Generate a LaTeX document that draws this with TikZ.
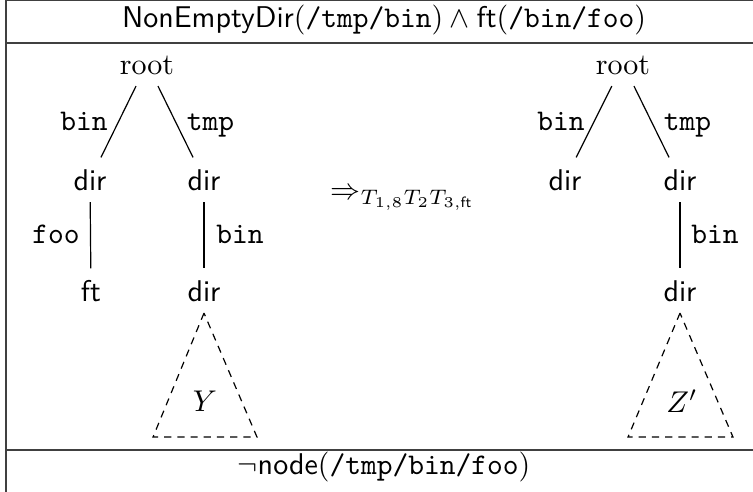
\documentclass[tikz,border=0pt]{standalone}
\usepackage{amsmath}
\begin{document}
\begin{tikzpicture}[x=0.33333pt,y=-0.33333pt,
  frame/.style={line width=0.5pt, draw=black!75},
  tn/.style={inner xsep=1pt, inner ysep=0pt, text height=11pt, text depth=3.5pt, anchor=base},
  lbl/.style={font=\ttfamily, inner sep=0pt, anchor=base},
  edge/.style={line width=0.4pt},
  tri/.style={line width=0.4pt, dash pattern=on 2.4pt off 2pt}]
\useasboundingbox (0,0) rectangle (753,492);
% frame
\coordinate (fTL) at (6,0.6);
\coordinate (fBL) at (6,492);
\coordinate (fTR) at (753,0.6);
\coordinate (hL) at (6,43);
\coordinate (hR) at (753,43);
\coordinate (bL) at (6,450);
\coordinate (bR) at (753,450);
\draw[frame] (fBL) -- (fTL) -- (fTR);
\draw[frame] (hL) -- (hR);
\draw[frame] (bL) -- (bR);
% header and footer
\node[anchor=base, inner sep=0pt] (head) at (384,28)
  {$\textsf{NonEmptyDir}(\texttt{/tmp/bin})\land\textsf{ft}(\texttt{/bin/foo})$};
\node[anchor=base, inner sep=0pt] (foot) at (384,475)
  {$\neg\textsf{node}(\texttt{/tmp/bin/foo})$};
% left tree
\node[tn] (lroot) at (147,75) {root};
\node[tn] (ldirA) at (90,191) {\textsf{dir}};
\node[tn] (ldirB) at (204,191) {\textsf{dir}};
\node[tn] (lft) at (91,302) {\textsf{ft}};
\node[tn] (ldirC) at (204,302) {\textsf{dir}};
\draw[edge] (lroot) -- (ldirA);
\draw[edge] (lroot) -- (ldirB);
\draw[edge] (ldirA) -- (lft);
\draw[edge] (ldirB) -- (ldirC);
\node[lbl] (lbin) at (84,131) {bin};
\node[lbl] (ltmp) at (210.5,131) {tmp};
\node[lbl] (lfoo) at (56,244) {foo};
\node[lbl] (lbin2) at (240,244) {bin};
\draw[tri] (ldirC.south) -- ++(-51,124) -- ++(104,0) -- cycle;
\node (Y) at (205,401) {$Y$};
% arrow
\node[anchor=base west, inner sep=0pt] (arr) at (330,200)
  {$\Rightarrow_{T_{1,8}T_2T_{3,\mathsf{ft}}}$};
% right tree
\node[tn] (rroot) at (623,75) {root};
\node[tn] (rdirA) at (565,191) {\textsf{dir}};
\node[tn] (rdirB) at (680,191) {\textsf{dir}};
\node[tn] (rdirC) at (680,302) {\textsf{dir}};
\draw[edge] (rroot) -- (rdirA);
\draw[edge] (rroot) -- (rdirB);
\draw[edge] (rdirB) -- (rdirC);
\node[lbl] (rbin) at (561,131) {bin};
\node[lbl] (rtmp) at (687.5,131) {tmp};
\node[lbl] (rbin2) at (715,244) {bin};
\draw[tri] (rdirC.south) -- ++(-52,124) -- ++(105,0) -- cycle;
\node (Z) at (682,401) {$Z'$};
\end{tikzpicture}
\end{document}
